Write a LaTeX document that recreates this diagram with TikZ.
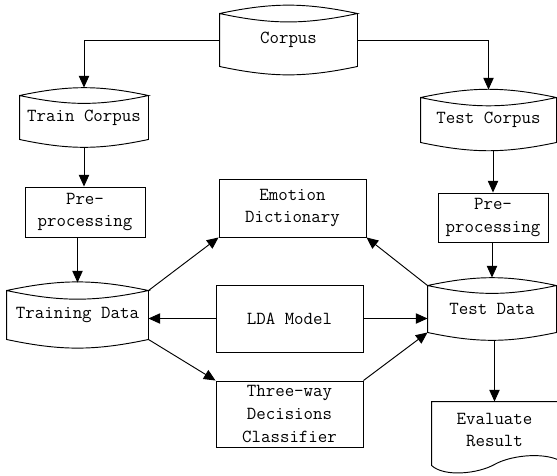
\documentclass[tikz,border=0pt]{standalone}
\usepackage{fontspec}
\usepackage{tikz}
\usetikzlibrary{arrows.meta,calc}

% outline of a stored-data node: lens on top, curved bottom
\newcommand{\storeoutline}[1]{%
  \path ([shift={(0,-0.24)}]#1.north west) coordinate (#1-tl)
        ([shift={(0,-0.24)}]#1.north east) coordinate (#1-tr)
        ([shift={(0,0.24)}]#1.south west) coordinate (#1-bl)
        ([shift={(0,0.24)}]#1.south east) coordinate (#1-br);
  \draw (#1-tl) to[bend left=12] (#1-tr) to[bend left=12] (#1-tl)
        -- (#1-bl) to[bend right=12] (#1-br) -- (#1-tr);}

\begin{document}
\begin{tikzpicture}[>={Triangle[length=3.5mm,width=3.1mm]}, line width=0.8pt,
  every node/.style={font=\ttfamily\fontsize{15.7}{19.5}\selectfont, align=center, inner sep=0pt},
  store/.style 2 args={minimum width=#1cm, minimum height=#2cm},
  procbox/.style 2 args={draw, minimum width=#1cm, minimum height=#2cm}]

  \useasboundingbox (0,0) rectangle (16.71,-14.25);

  % data stores
  \node[store={4.11}{2.04}] (corpus) at (8.655,-1.2) {Corpus};
  \node[store={3.84}{1.77}] (train)  at (2.52,-3.525) {Train Corpus};
  \node[store={4.05}{1.8}]  (testc)  at (14.655,-3.6) {Test Corpus};
  \node[store={4.23}{1.92}] (trainD) at (2.325,-9.45) {Training Data};
  \node[store={3.84}{1.86}] (testD)  at (14.76,-9.27) {Test Data};
  \foreach \n in {corpus,train,testc,trainD,testD} {\storeoutline{\n}}

  % process boxes
  \node[procbox={3.6}{1.5}]   (preL)  at (2.55,-6.36)   {Pre-\\processing};
  \node[procbox={3.3}{1.47}]  (preR)  at (14.79,-6.525) {Pre-\\processing};
  \node[procbox={4.41}{1.74}] (emo)   at (8.775,-6.24)  {Emotion\\Dictionary};
  \node[procbox={4.41}{2.01}] (lda)   at (8.685,-9.555) {LDA Model};
  \node[procbox={4.41}{1.98}] (three) at (8.685,-12.42) {Three-way\\Decisions\\Classifier};

  % document shape
  \node[store={3.75}{1.68}] (eval) at (14.835,-12.9) {Evaluate\\Result};
  \draw (eval.north west) -- (eval.north east) -- ([shift={(0,-0.03)}]eval.south east)
    .. controls +(-0.51,0.21) and +(0.48,0.27) .. ([shift={(0,-0.18)}]eval.south)
    .. controls +(-0.48,-0.27) and +(0.39,-0.36) .. ([shift={(0,-0.21)}]eval.south west)
    -- cycle;

  % connectors
  \draw[->] (corpus.west) -| (train.north);
  \draw[->] (corpus.east) -| (testc.north);
  \draw[->] (train.south) -- (train.south |- preL.north);
  \draw[->] (trainD.north |- preL.south) -- (trainD.north);
  \draw[->] (preR.north |- testc.south) -- (preR.north);
  \draw[->] (testD.north |- preR.south) -- (testD.north);
  \draw[->] (eval.north |- testD.south) -- (eval.north);
  \draw[->] (lda.west) -- (lda.west -| trainD.east);
  \draw[->] (lda.east) -- (lda.east -| testD.west);
  \draw[->] (trainD-tr) -- (emo.south west);
  \draw[->] (trainD-br) -- (three.north west);
  \draw[->] (testD-tl) -- (emo.south east);
  \draw[->] (three.north east) -- (testD-bl);
\end{tikzpicture}
\end{document}
